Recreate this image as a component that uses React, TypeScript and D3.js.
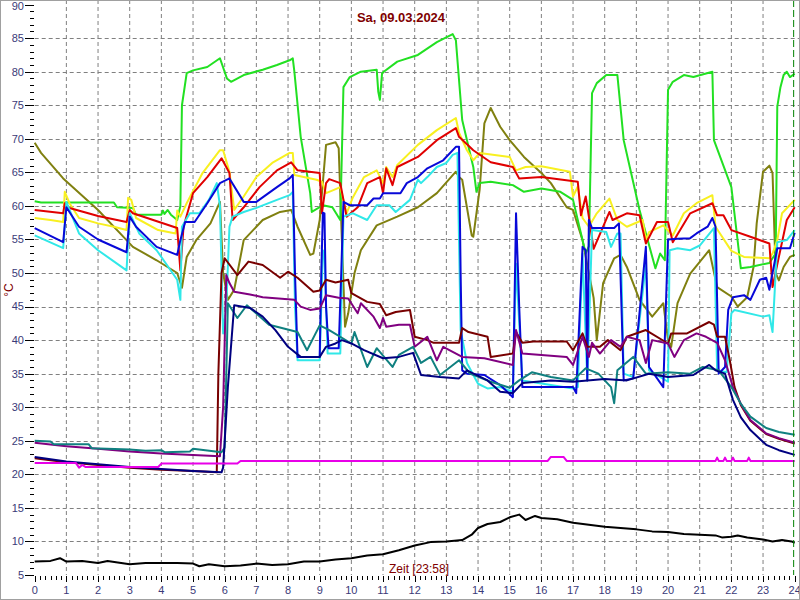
import React from "react";
import * as d3 from "d3";

type P = [number, number];

const yTicks = [5, 10, 15, 20, 25, 30, 35, 40, 45, 50, 55, 60, 65, 70, 75, 80, 85, 90];
const xTicks = d3.range(0, 25);
const titleText = "Sa, 09.03.2024";
const xTitle = "Zeit [23:58]";
const yTitle = "°C";
const nowHour = 23 + 58 / 60;

const outdoor: P[] = [[0,7.0],[0.5,7.1],[0.8,7.5],[1,7.0],[1.5,7.1],[2,6.8],[2.3,7.1],[3,6.6],[3.5,6.8],[4,6.8],[4.5,6.8],[5,6.7],[5.2,6.3],[5.5,6.6],[6,6.3],[6.5,6.4],[7,6.7],[7.5,6.5],[8,6.6],[8.5,7.0],[9,7.0],[9.5,7.3],[10,7.5],[10.5,7.9],[11,8.1],[11.5,8.7],[12,9.4],[12.5,9.9],[13,10.0],[13.5,10.2],[13.8,11],[14,12],[14.3,12.6],[14.7,12.9],[15,13.6],[15.3,14.0],[15.5,13.2],[15.8,13.8],[16,13.5],[16.5,13.3],[17,12.8],[17.5,12.5],[18,12.2],[18.5,12.0],[19,11.8],[19.5,11.5],[20,11.4],[20.5,11.1],[21,11.0],[21.5,10.9],[21.7,10.6],[22,10.7],[22.2,10.9],[22.5,10.6],[23,10.3],[23.3,10.0],[23.6,10.2],[23.9,10.0],[24,9.8]];

const magenta: P[] = [[0,21.7],[1.3,21.7],[1.4,21.0],[1.5,21.4],[1.6,21.1],[3.9,21.1],[4.0,21.6],[6.4,21.6],[6.5,22.0],[16.2,22.0],[16.3,22.6],[16.7,22.6],[16.8,22.0],[21.5,22.0],[21.55,22.5],[21.6,22.0],[21.75,22.0],[21.8,22.5],[21.85,22.0],[22.0,22.0],[22.05,22.5],[22.1,22.0],[22.5,22.0],[22.55,22.5],[22.6,22.0],[24,22.0]];

const navy: P[] = [[0,22.6],[1,21.9],[2,21.5],[3,21.1],[4,20.8],[5,20.5],[5.9,20.3],[5.95,21.0],[6.1,33],[6.3,45.2],[6.8,44.8],[7.2,43.5],[7.6,41.5],[8,39],[8.4,37.5],[9,37.5],[9.2,39],[9.5,39.5],[9.7,40],[10,39.5],[10.4,38.5],[11,37.3],[11.5,37.5],[11.95,38.1],[12.2,34.8],[12.8,34.5],[13.4,34.3],[13.65,35.5],[14.3,34],[14.7,32.3],[15.1,32.1],[15.4,33.6],[16.3,34],[17,33.8],[18,34.2],[18.7,34],[19.4,35],[20,34.5],[20.8,34.8],[21.3,36.3],[21.5,35.5],[21.8,35],[22.05,31.1],[22.3,28.5],[22.6,26.6],[23.1,24.4],[23.5,23.6],[24,22.9]];

const teal: P[] = [[0,25.0],[0.5,24.9],[0.6,24.5],[1.7,24.5],[1.8,23.9],[3,23.7],[3.5,23.5],[4,23.6],[4.1,23.3],[4.9,23.4],[5,23.8],[5.9,23.3],[6.0,24],[6.1,45.5],[6.4,43.3],[6.7,45.2],[7.4,42.3],[8.3,41.2],[8.6,38.5],[9,42.2],[9.3,41.5],[10,39.5],[10.1,41.2],[10.5,36],[10.8,38.8],[11.3,36],[11.5,37.8],[11.95,39],[12.2,36.6],[12.5,37.5],[12.8,34.8],[13.4,37],[13.75,35],[14.4,33.8],[15,32.9],[15.3,34],[15.7,35.2],[16.3,34.5],[17,34],[17.4,35.8],[17.8,35],[18.2,33],[18.3,30.6],[18.4,35.5],[18.9,37.5],[19.3,35],[20,35.2],[20.7,35],[21.1,36],[21.6,35.5],[22,33],[22.3,30.5],[22.6,28.6],[23.1,26.9],[23.5,26.3],[24,25.9]];

const purple: P[] = [[0,24.7],[1,24.2],[2,23.8],[3,23.4],[4,23.1],[5,22.9],[5.85,22.7],[5.95,30],[6.05,49.7],[6.15,48.5],[6.3,47.2],[6.8,46.8],[7.2,46.4],[7.7,46.2],[8.2,46.0],[8.4,45.0],[8.7,44.5],[9.0,44.7],[9.2,46.7],[9.6,46.3],[9.9,46.2],[10.2,44],[10.3,45.5],[10.7,43.5],[10.9,41.8],[11.0,43.3],[11.1,42],[11.5,42.3],[11.85,42.3],[12,39],[12.4,40.5],[12.7,37],[12.9,39],[13.5,37.5],[14.2,37.3],[15.1,36.3],[15.2,41.5],[15.4,38],[16.8,37.5],[17,36.3],[17.3,40.5],[17.5,37.5],[17.6,39.6],[17.85,38],[18.2,40],[18.5,39],[18.7,40.5],[19.1,40],[19.3,36.6],[19.5,40],[20,39.5],[20.2,37.5],[20.5,40],[20.9,41],[21.2,40.5],[21.55,39.6],[21.8,37],[22.05,33],[22.3,30.5],[22.6,28.1],[23.1,26.1],[23.5,25.4],[24,24.7]];

const maroon: P[] = [[0,22.4],[1,21.8],[2,21.4],[3,21.0],[4,20.7],[5,20.5],[5.75,20.3],[5.8,35],[5.9,50],[6.0,52.2],[6.4,49.7],[6.75,51.7],[7.2,51.2],[7.75,49.3],[8.0,50.2],[8.3,49.3],[8.8,47.2],[9.0,47.4],[9.2,49],[9.5,48.6],[9.9,49],[10,47],[10.5,45.7],[10.9,45.4],[11.1,43.7],[11.4,44.2],[11.85,44.5],[12,40.5],[12.4,40],[12.6,39.6],[13.4,39.6],[13.5,41.8],[13.7,41.2],[14.3,40.5],[14.4,37.5],[15.1,38],[15.2,41.2],[15.4,39.6],[15.75,39.8],[16.8,39.8],[17,38.5],[17.3,41],[17.45,39],[17.85,39],[18.1,40],[18.5,38.5],[18.7,40.5],[19.3,41.5],[20,39.5],[20.1,41],[20.6,41],[21.3,42.7],[21.45,42.3],[21.55,40.5],[21.8,40.5],[21.95,37],[22.1,33],[22.3,30.3],[22.6,28],[23.1,26],[23.5,25.3],[24,24.6]];

const green: P[] = [[0,60.7],[0.2,60.5],[2.5,60.5],[2.6,59.8],[3.1,59.7],[3.2,58.7],[4.0,58.7],[4.05,59.3],[4.1,58.8],[4.2,59.4],[4.3,58.7],[4.5,57.9],[4.6,60],[4.65,75],[4.8,79.8],[5.0,80.2],[5.45,80.7],[5.85,82],[6.07,79],[6.2,78.5],[6.6,79.5],[7.2,80.3],[7.65,81],[8.05,81.7],[8.15,82],[8.2,80],[8.4,70.3],[8.7,61.9],[8.75,59.1],[9.1,60.1],[9.4,59.8],[9.65,57.9],[9.75,77.7],[9.95,79.2],[10.3,80],[10.8,80.3],[10.85,77],[10.9,75.8],[10.97,79.8],[11.45,81.5],[12.1,82.5],[12.7,84.4],[13.2,85.6],[13.3,84.7],[13.5,72.8],[13.85,65.8],[13.95,62.1],[14.05,63.4],[14.4,63.6],[15.1,63.1],[15.45,62.1],[16,62.6],[16.6,62.1],[17,60.9],[17.4,52.9],[17.5,54],[17.6,76.8],[17.75,78.3],[18.05,79.5],[18.4,79.5],[18.6,69.8],[19.1,59.4],[19.6,50.7],[19.75,52.9],[19.9,51.9],[20.0,77.3],[20.15,78.5],[20.5,79.5],[20.8,79.2],[21.4,80],[21.45,69.8],[22,62.8],[22.3,50.7],[22.6,50.9],[23.2,51.5],[23.4,52.9],[23.45,74.8],[23.55,77.7],[23.65,79.5],[23.75,80],[23.85,79.2],[24,79.7]];

const yellow: P[] = [[0,58.2],[0.5,57.9],[0.9,57.6],[0.95,62.1],[1.1,60.4],[1.4,58.2],[2,57.4],[2.5,56.9],[2.9,56.4],[2.95,61.2],[3.05,60.9],[3.2,58.2],[3.9,56.4],[4.45,55.9],[4.5,59.3],[4.6,58.4],[4.8,60.4],[5.3,64.9],[5.85,68.3],[5.95,68.3],[6.15,65.1],[6.3,59.4],[6.6,61.4],[7,64.3],[7.5,66.4],[8.05,67.9],[8.15,67.9],[8.2,64.6],[8.9,63.9],[9.07,63.6],[9.2,61.9],[9.45,62.4],[9.65,62.8],[9.85,58.9],[10.05,61.3],[10.4,64.3],[10.8,65.3],[11,63.4],[11.1,65.8],[11.3,64.3],[11.45,66.1],[12.1,69.1],[12.7,71.3],[13.3,73.1],[13.4,70.9],[13.65,68.3],[13.85,66.8],[14.05,67.9],[15,67.3],[15.2,65.3],[15.5,65.8],[16,65.9],[16.9,65.1],[17,61.4],[17.15,62.9],[17.3,58.2],[17.5,56.9],[17.75,58.9],[18.15,61.1],[18.4,57.9],[18.7,56.9],[19.2,57.9],[19.3,54.9],[19.4,56.1],[19.85,57.1],[20.15,55.6],[20.5,58.9],[20.9,60.4],[21.4,61.6],[21.5,56.9],[22,53.3],[22.4,52.4],[23.2,52.2],[23.3,52.9],[23.45,54.9],[23.6,58.9],[24,60.9]];

const red: P[] = [[0,59.4],[0.9,58.9],[0.95,60.4],[1.1,59.7],[2,58.5],[2.9,57.6],[3.0,59.4],[3.1,58.9],[4.5,56.7],[4.6,50.4],[4.7,56.9],[5.0,61.9],[5.45,64.3],[5.9,67.1],[6.15,64.9],[6.25,57.9],[6.6,59.8],[7.1,62.8],[7.65,65.3],[8.1,66.5],[8.3,65.3],[9,64.9],[9.07,58.9],[9.2,63.4],[9.3,64],[9.65,63.4],[9.85,58.4],[10.2,59.8],[10.5,63.4],[10.9,64.3],[11,61.9],[11.1,65.6],[11.3,63.1],[11.45,65.8],[12.1,67.3],[12.7,69.8],[13.3,71.6],[13.4,70.3],[13.85,68.3],[14.4,66.5],[15.1,65.8],[15.3,64.1],[16,64.3],[17.15,63.6],[17.25,58.6],[17.4,61.4],[17.5,58.4],[17.65,53.6],[18.15,59.1],[18.25,57.9],[18.7,58.9],[19.1,58.6],[19.3,54.4],[19.65,57.6],[20,57.6],[20.15,54.6],[20.7,58.9],[21.4,60.4],[21.55,58.6],[21.75,58.6],[22,56.4],[22.6,55.4],[23.2,54.4],[23.3,47.9],[23.5,52.4],[23.75,57.9],[24,59.8]];

const blue: P[] = [[0,56.7],[0.9,54.6],[1.0,59.8],[1.4,56.9],[2,55],[2.9,53.1],[3.0,58.4],[3.2,56.9],[3.85,53.9],[4.5,52.7],[4.6,54.9],[4.75,57.6],[5.05,57.6],[5.45,60.4],[5.85,63.4],[6.15,64.1],[6.6,60.6],[7.0,60.6],[7.65,62.8],[8.05,64.1],[8.15,64.6],[8.22,50],[8.3,37.5],[9.0,37.5],[9.05,50],[9.1,59],[9.15,58.9],[9.2,45],[9.28,38.8],[9.6,38.8],[9.68,50],[9.75,60.6],[9.95,60.1],[10.5,60.1],[10.7,61.1],[10.9,61.1],[11,61.9],[11.55,61.9],[11.75,63.4],[12.1,64.3],[12.4,65.6],[12.9,66.8],[13.3,68.8],[13.4,68.8],[13.45,50],[13.5,35.5],[13.65,35],[14.2,34.8],[14.7,33.3],[15.1,31.5],[15.2,58.9],[15.3,45],[15.4,33],[17,33],[17.1,32.1],[17.3,53.9],[17.4,53.4],[17.45,34],[17.5,57.9],[17.6,56.7],[18.3,56.7],[18.45,57.4],[18.6,34],[18.9,34.3],[19.3,53.9],[19.4,36],[19.85,33],[20,55],[20.3,55.1],[20.7,55.2],[20.9,55.9],[21.25,56.9],[21.4,58.2],[21.5,56.9],[21.6,35],[21.8,36],[21.9,44.5],[22.05,46.4],[22.4,46.7],[22.6,46],[22.9,49],[23.1,49.3],[23.2,47.5],[23.3,50],[23.45,53.7],[23.85,53.7],[24,56]];

const cyan: P[] = [[0,55.6],[0.9,53.7],[1.0,60.6],[1.4,55.9],[2,53.4],[2.9,50.4],[3.0,58.9],[3.3,55.9],[3.85,53.4],[4.5,49],[4.6,46],[4.65,56.9],[4.9,58.9],[5.2,58.9],[5.5,60.9],[5.75,63.4],[5.85,60],[5.95,41],[6.05,45],[6.15,56.9],[6.25,58.4],[6.6,59.1],[7.0,59.7],[7.65,60.9],[8.05,61.6],[8.15,62.1],[8.22,45],[8.3,37],[9.0,37],[9.1,53.4],[9.15,53],[9.25,38],[9.65,38],[9.75,58.4],[10.05,58.9],[10.5,57.9],[10.8,60.1],[11.2,60.1],[11.4,59.1],[11.85,60.9],[12.1,63.9],[12.2,63.4],[12.4,64.3],[12.7,65.8],[13,66.4],[13.2,67.6],[13.35,67.9],[13.45,41.5],[13.65,36.6],[14,33.5],[14.3,32.8],[14.7,33],[15.1,32.3],[15.2,51.4],[15.4,34],[16.3,33.3],[17,32.8],[17.15,33],[17.3,52.9],[17.45,34],[17.6,56.4],[18.05,56.1],[18.2,53.9],[18.4,55.9],[18.5,55.9],[18.6,35],[18.9,34.5],[19.3,51.4],[19.4,35.5],[20,33.8],[20.05,53.4],[20.3,53.7],[20.7,53.4],[21,54.1],[21.45,56.7],[21.55,35.5],[21.85,35.2],[22,44],[22.1,44.5],[23,43.5],[23.2,43.7],[23.3,41.2],[23.45,54.6],[23.75,54.9],[24,56.4]];

const olive: P[] = [[0,69.4],[0.2,67.9],[0.9,64.1],[2,59.4],[2.9,54.9],[3.1,53.9],[3.85,51.9],[4.5,50],[4.65,47.8],[4.8,52.4],[5.1,54.9],[5.55,57.4],[5.85,60.6],[5.95,50],[6.1,46],[6.3,47.5],[6.6,54.9],[7.2,57.9],[7.75,59.1],[8.1,59.4],[8.3,56.9],[8.7,52.7],[8.8,52.9],[9,57.9],[9.2,69.1],[9.5,69.5],[9.6,68.6],[9.7,55],[9.8,42],[9.9,44],[10.1,50],[10.3,53.4],[10.8,57.1],[11.45,58.4],[12.1,59.8],[12.7,61.9],[13.3,65.1],[13.4,64.3],[13.5,63.9],[13.8,55.6],[13.85,55.4],[14.05,62.4],[14.2,72.3],[14.4,74.6],[14.7,71.8],[15,69.8],[15.45,67.3],[16,64.9],[16.3,63.4],[16.8,59.8],[17,59.4],[17.3,54.9],[17.5,50],[17.65,46.3],[17.75,40],[17.95,48.5],[18.3,52.2],[18.5,52.7],[18.7,50.9],[19.1,46],[19.5,43.5],[19.85,45.5],[20,40],[20.1,39],[20.3,45.5],[20.7,49.9],[21.3,53.4],[21.55,47.9],[22,46.5],[22.2,45],[22.5,46.4],[22.7,50.9],[22.8,57.4],[23,65.1],[23.2,66],[23.3,64.9],[23.4,50],[23.5,48.9],[23.65,50.9],[23.85,52.4],[24,52.7]];

const seriesList: { data: P[]; color: string }[] = [
  { data: olive, color: "#808010" },
  { data: green, color: "#22e022" },
  { data: yellow, color: "#f8f020" },
  { data: red, color: "#e00000" },
  { data: cyan, color: "#30e8e8" },
  { data: blue, color: "#0808d8" },
  { data: maroon, color: "#780000" },
  { data: purple, color: "#800080" },
  { data: teal, color: "#108080" },
  { data: navy, color: "#000080" },
  { data: magenta, color: "#e800e8" },
  { data: outdoor, color: "#000000" },
];

const W = 800;
const H = 600;
const x = d3.scaleLinear().domain([0, 24]).range([34.7, 794.7]);
const y = d3.scaleLinear().domain([5, 90]).range([575, 4.6]);
const font = "'Liberation Sans', Arial, sans-serif";
const labelColor = "#3a3a78";

export default function App() {
  const line = d3
    .line<P>()
    .x((d) => x(d[0]))
    .y((d) => y(d[1]));
  const minorY = d3.range(5, 91).filter((v) => v % 5 !== 0);
  const minorX = d3.range(0, 24 * 6 + 1).filter((i) => i % 6 !== 0).map((i) => i / 6);
  return (
    <svg
      width={W}
      height={H}
      style={{ position: "absolute", left: 0, top: 0, background: "#fff" }}
      fontFamily={font}
    >
      <rect x={0} y={0} width={W} height={H} fill="#fff" />
      {xTicks.filter((h) => h > 0 && h < 24).map((h) => (
        <line key={"gx" + h} x1={x(h)} x2={x(h)} y1={0} y2={y(5)} stroke="#808080" strokeDasharray="4,3" strokeWidth={1} />
      ))}
      {yTicks.filter((v) => v > 5 && v < 90).map((v) => (
        <line key={"gy" + v} x1={x(0)} x2={W} y1={Math.round(y(v)) + 0.5} y2={Math.round(y(v)) + 0.5} stroke="#808080" strokeDasharray="4,3" strokeWidth={1} />
      ))}
      {yTicks.map((v) => (
        <g key={"yt" + v}>
          <line x1={25} x2={34} y1={Math.round(y(v)) + 0.5} y2={Math.round(y(v)) + 0.5} stroke="#000" />
          <text x={24} y={Math.max(y(v), 6)} dy="0.35em" textAnchor="end" fontSize={11} fill={labelColor}>{v}</text>
        </g>
      ))}
      {minorY.map((v) => (
        <line key={"ym" + v} x1={30} x2={34} y1={Math.round(y(v)) + 0.5} y2={Math.round(y(v)) + 0.5} stroke="#000" />
      ))}
      {xTicks.map((h) => (
        <g key={"xt" + h}>
          <line x1={Math.round(x(h)) + 0.5} x2={Math.round(x(h)) + 0.5} y1={576} y2={582} stroke="#000" />
          <text x={x(h)} y={594} textAnchor="middle" fontSize={11} fill={labelColor}>{h}</text>
        </g>
      ))}
      {minorX.map((h, i) => (
        <line key={"xm" + i} x1={Math.round(x(h)) + 0.5} x2={Math.round(x(h)) + 0.5} y1={576} y2={580} stroke="#000" />
      ))}
      {seriesList.map((s, i) => (
        <path key={"s" + i} d={line(s.data) || ""} fill="none" stroke={s.color} strokeWidth={2} strokeLinejoin="round" />
      ))}
      <line x1={x(nowHour)} x2={x(nowHour)} y1={0} y2={y(5)} stroke="#008000" strokeDasharray="7,3" strokeWidth={1} />
      <text x={401} y={22} textAnchor="middle" fontSize={13} fontWeight="bold" fill="#800000">{titleText}</text>
      <text x={419} y={573} textAnchor="middle" fontSize={12} fill="#800000">{xTitle}</text>
      <text transform="translate(13,290) rotate(-90)" textAnchor="middle" fontSize={12} fill="#800000">{yTitle}</text>
      <rect x={0.5} y={0.5} width={W - 1} height={H - 1} fill="none" stroke="#a0a0a0" />
    </svg>
  );
}
